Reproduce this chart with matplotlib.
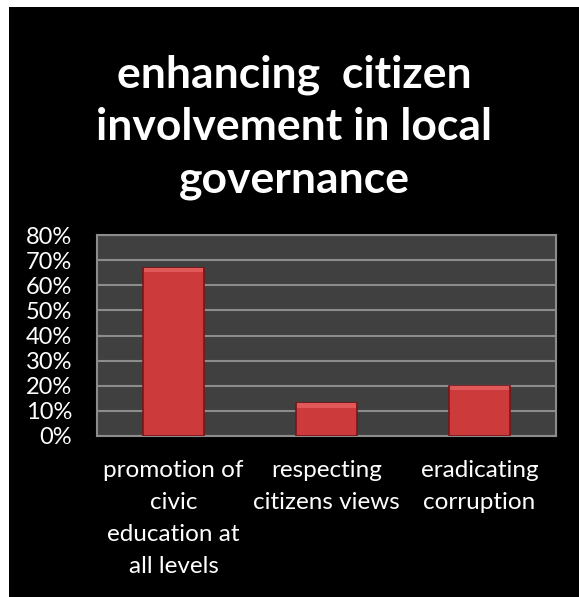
import matplotlib.pyplot as plt
from matplotlib.patches import Rectangle
import numpy as np

categories = ["promotion of\ncivic\neducation at\nall levels", "respecting\ncitizens views", "eradicating\ncorruption"]
values = [67, 13, 20]
yticks = [0, 10, 20, 30, 40, 50, 60, 70, 80]
title = "enhancing  citizen\ninvolvement in local\ngovernance"

plt.rcParams['font.family'] = ['Lato', 'DejaVu Sans']

fig = plt.figure(figsize=(5.79, 5.97), dpi=100, facecolor="white")
# black chart area, white strip on left and top
fig.patches.append(Rectangle((9 / 579, 0), 1 - 9 / 579, 1 - 7 / 597, transform=fig.transFigure,
                             facecolor="black", edgecolor="none", zorder=-5))

fig.text(0.508, 0.787, title, ha="center", va="center", color="white", fontsize=32,
         fontweight="bold", linespacing=1.36)

ax = fig.add_axes([97 / 579, 1 - 436 / 597, (556 - 97) / 579, (436 - 235) / 597])
ax.set_zorder(2)
ax.set_facecolor("#404040")
x = np.arange(len(categories))
ax.bar(x, values, width=0.4, color="#cc3a3c", edgecolor="#7a1517", linewidth=1.2, zorder=3)
# lighter top strip for the bevel look
ax.bar(x, [1.8] * len(values), bottom=[v - 1.8 for v in values], width=0.38,
       color="#e05858", linewidth=0, zorder=4)

ax.set_xlim(-0.5, 2.5)
ax.set_ylim(0, 80)
ax.set_yticks(yticks)
ax.set_yticklabels([f"{t}%" for t in yticks], color="white", fontsize=17)
ax.set_xticks(x)
ax.set_xticklabels(categories, color="white", fontsize=17.5, linespacing=1.65, va="top")
ax.tick_params(axis="y", length=0, pad=18)
ax.tick_params(axis="x", length=0, pad=17)
ax.grid(axis="y", color="#8c8c8c", linewidth=1.5, zorder=1)
for s in ax.spines.values():
    s.set_color("#8c8c8c")
    s.set_linewidth(1.5)

fig.savefig("out.png", dpi=100, facecolor="white")
